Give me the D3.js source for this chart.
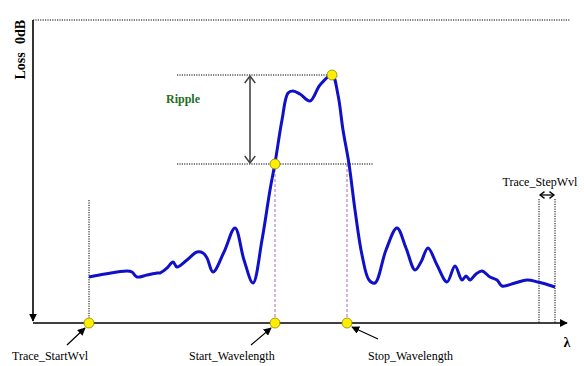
<!DOCTYPE html>
<html>
<head>
<meta charset="utf-8">
<script src="https://cdn.jsdelivr.net/npm/d3@7"></script>
<style>
  html, body { margin: 0; padding: 0; background: #fff; }
  svg { display: block; }
  text { font-family: "Liberation Serif", "Times New Roman", serif; }
</style>
</head>
<body>
<svg id="chart" width="584" height="366"></svg>
<script>
// Wavelength position (sweep step units) and insertion loss (dB) of the filter trace
const wavelength = [11.2, 14.4, 18.8, 19.8, 20.8, 22.8, 24.8, 25.4, 26.8, 28.0, 28.8, 30.8, 32.8, 34.0, 34.8, 36.0,
  38.2, 40.4, 42.2, 44.0, 45.8, 47.4, 48.4, 49.8, 51.0, 52.0, 53.4, 55.4, 57.4, 59.8, 61.0, 62.0, 63.2, 64.4,
  65.8, 67.2, 68.4, 70.6, 72.8, 74.6, 76.4, 77.6, 79.0, 80.8, 82.8, 84.4, 85.8, 86.6, 87.4, 88.6, 89.8, 91.4,
  92.8, 93.8, 96.4, 98.8, 101.0, 104.4];
const loss = [25.7, 25.4, 25.1, 25.2, 25.7, 25.5, 25.3, 25.3, 24.8, 24.2, 24.7, 24.0, 23.2, 23.3, 23.8, 25.2,
  23.2, 20.8, 24.0, 26.3, 22.0, 17.0, 14.3, 10.0, 7.3, 7.1, 7.4, 8.1, 6.5, 5.5, 7.5, 11.0, 14.4, 19.0,
  23.5, 26.0, 26.3, 23.0, 20.8, 22.8, 25.0, 24.2, 22.8, 24.5, 26.2, 24.6, 26.0, 25.6, 26.0, 25.4, 25.1, 25.7,
  26.0, 26.6, 26.3, 26.0, 26.2, 26.7];

// Key markers
const traceStart = 11.2;
const startWavelength = 48.4;
const stopWavelength = 62.8;
const peak = { x: 59.8, loss: 5.5 };
const rippleBottomLoss = 14.4;
const stepWvl = [101.2, 104.4];
const axisLabels = ["Trace_StartWvl", "Start_Wavelength", "Stop_Wavelength"];

const svg = d3.select("#chart");
const x = d3.scaleLinear().domain([0, 106]).range([33, 563]);
const y = d3.scaleLinear().domain([0, 30.3]).range([20, 323]);

const defs = svg.append("defs");
defs.append("marker").attr("id", "tri").attr("viewBox", "0 0 10 10")
  .attr("refX", 9).attr("refY", 5).attr("markerWidth", 8).attr("markerHeight", 8)
  .attr("markerUnits", "userSpaceOnUse").attr("orient", "auto")
  .append("path").attr("d", "M0,0 L10,5 L0,10 Z").attr("fill", "#000");

// Open chevron arrowheads: vertical (dir +1 opens downward) and horizontal (dir +1 opens right)
function chevronV(px, py, dir, size, color, width) {
  svg.append("path")
    .attr("d", `M${px - size * 0.75},${py + dir * size} L${px},${py} L${px + size * 0.75},${py + dir * size}`)
    .attr("fill", "none").attr("stroke", color).attr("stroke-width", width);
}
function chevronH(px, py, dir, size, color, width) {
  svg.append("path")
    .attr("d", `M${px + dir * size},${py - size * 0.75} L${px},${py} L${px + dir * size},${py + size * 0.75}`)
    .attr("fill", "none").attr("stroke", color).attr("stroke-width", width);
}

// 0 dB reference line
svg.append("line").attr("x1", x(0)).attr("x2", 570).attr("y1", y(0)).attr("y2", y(0))
  .attr("stroke", "#000").attr("stroke-width", 1).attr("stroke-dasharray", "1.2,1.2");

// Axes
svg.append("line").attr("x1", x(0)).attr("x2", x(0)).attr("y1", y(0)).attr("y2", 321)
  .attr("stroke", "#000").attr("stroke-width", 1.6).attr("marker-end", "url(#tri)");
svg.append("line").attr("x1", x(0)).attr("x2", 567).attr("y1", y(30.3)).attr("y2", y(30.3))
  .attr("stroke", "#000").attr("stroke-width", 1.6).attr("marker-end", "url(#tri)");

// Axis titles
svg.append("text").attr("transform", `translate(25,${y(1.2)}) rotate(-90)`)
  .attr("text-anchor", "middle").attr("font-size", 14).attr("font-weight", "bold").text("0dB");
svg.append("text").attr("transform", `translate(25,${y(4.6)}) rotate(-90)`)
  .attr("text-anchor", "middle").attr("font-size", 14).attr("font-weight", "bold").text("Loss");
svg.append("text").attr("x", 567).attr("y", 347).attr("text-anchor", "middle")
  .attr("font-size", 14).attr("font-weight", "bold").text("λ");

// Ripple guides
const rippleX0 = 28.8;
const rippleArrowX = 43.4;
svg.append("line").attr("x1", x(rippleX0)).attr("x2", x(peak.x)).attr("y1", y(peak.loss)).attr("y2", y(peak.loss))
  .attr("stroke", "#000").attr("stroke-dasharray", "1.2,1.2");
svg.append("line").attr("x1", x(rippleX0)).attr("x2", x(68)).attr("y1", y(rippleBottomLoss)).attr("y2", y(rippleBottomLoss))
  .attr("stroke", "#000").attr("stroke-dasharray", "1.2,1.2");
svg.append("line").attr("x1", x(rippleArrowX)).attr("x2", x(rippleArrowX))
  .attr("y1", y(peak.loss) + 1).attr("y2", y(rippleBottomLoss) - 1)
  .attr("stroke", "#444").attr("stroke-width", 1.6);
chevronV(x(rippleArrowX), y(peak.loss) + 1, 1, 7, "#444", 1.5);
chevronV(x(rippleArrowX), y(rippleBottomLoss) - 1, -1, 7, "#444", 1.5);
svg.append("text").attr("x", 166).attr("y", 103).attr("font-size", 12).attr("font-weight", "bold")
  .attr("fill", "#1e6e1e").text("Ripple");

// Vertical guide lines
svg.append("line").attr("x1", x(traceStart)).attr("x2", x(traceStart)).attr("y1", y(18)).attr("y2", y(30.3))
  .attr("stroke", "#000").attr("stroke-dasharray", "1.2,1.2");
[startWavelength, stopWavelength].forEach(v => {
  svg.append("line").attr("x1", x(v)).attr("x2", x(v)).attr("y1", y(rippleBottomLoss)).attr("y2", y(30.3))
    .attr("stroke", "#8a4a9a").attr("stroke-width", 0.8).attr("stroke-dasharray", "3,2");
});
stepWvl.forEach(v => {
  svg.append("line").attr("x1", x(v)).attr("x2", x(v)).attr("y1", y(17.9)).attr("y2", y(30.3))
    .attr("stroke", "#000").attr("stroke-dasharray", "1.2,1.2");
});
const stepY = y(17.5);
svg.append("line").attr("x1", x(stepWvl[0]) + 1).attr("x2", x(stepWvl[1]) - 1).attr("y1", stepY).attr("y2", stepY)
  .attr("stroke", "#000").attr("stroke-width", 1.3);
chevronH(x(stepWvl[0]) + 1, stepY, 1, 4.5, "#000", 1.3);
chevronH(x(stepWvl[1]) - 1, stepY, -1, 4.5, "#000", 1.3);
svg.append("text").attr("x", 540).attr("y", 186).attr("text-anchor", "middle")
  .attr("font-size", 12).text("Trace_StepWvl");

// Trace
const line = d3.line().x((d, i) => x(wavelength[i])).y(d => y(d)).curve(d3.curveCatmullRom.alpha(0.5));
svg.append("path").datum(loss).attr("d", line).attr("fill", "none")
  .attr("stroke", "#1010c8").attr("stroke-width", 3).attr("stroke-linejoin", "round");

// Marker dots
const dots = [
  { x: peak.x, l: peak.loss },
  { x: startWavelength, l: rippleBottomLoss },
  { x: traceStart, l: 30.3 },
  { x: startWavelength, l: 30.3 },
  { x: stopWavelength, l: 30.3 }
];
svg.selectAll("circle.dot").data(dots).join("circle").attr("class", "dot")
  .attr("cx", d => x(d.x)).attr("cy", d => y(d.l)).attr("r", 5)
  .attr("fill", "#ffee00").attr("stroke", "#888800").attr("stroke-width", 0.8);

// Bottom labels with pointers
const labelPos = [
  { text: axisLabels[0], tx: 12, ty: 360, ax0: 67, ay0: 345, ax1: 85, ay1: 328 },
  { text: axisLabels[1], tx: 189, ty: 360, ax0: 251, ay0: 345, ax1: 271, ay1: 328 },
  { text: axisLabels[2], tx: 368, ty: 360, ax0: 378, ay0: 339, ax1: 352, ay1: 327 }
];
labelPos.forEach(p => {
  svg.append("line").attr("x1", p.ax0).attr("y1", p.ay0).attr("x2", p.ax1).attr("y2", p.ay1)
    .attr("stroke", "#000").attr("stroke-width", 1.2).attr("marker-end", "url(#tri)");
  svg.append("text").attr("x", p.tx).attr("y", p.ty).attr("font-size", 12).text(p.text);
});
</script>
</body>
</html>
